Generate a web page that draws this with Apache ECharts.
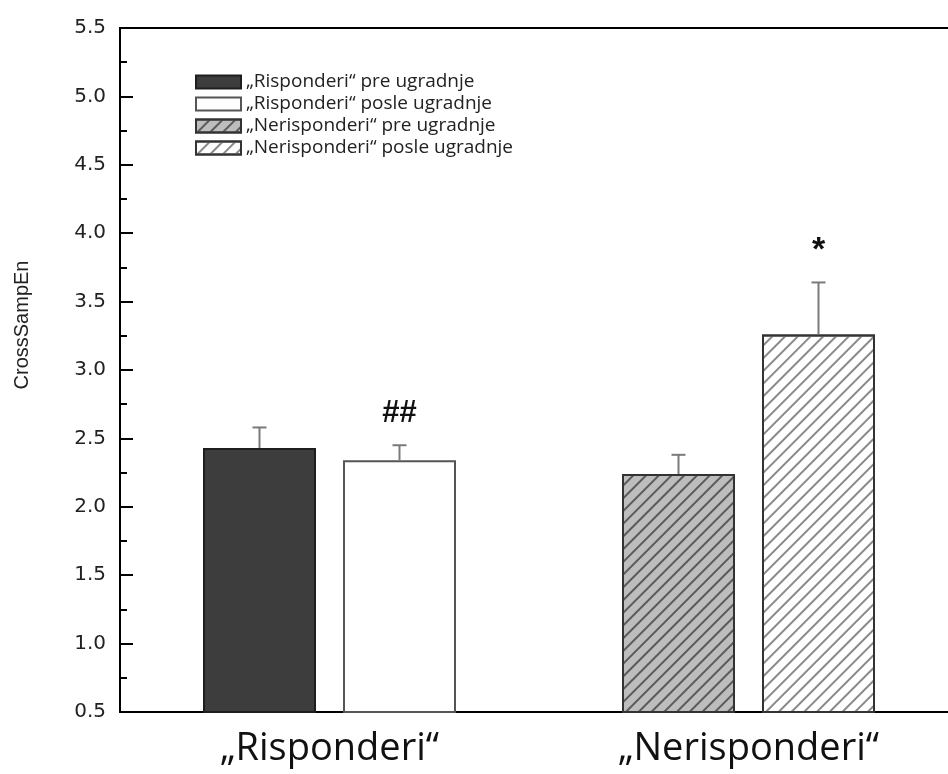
<!DOCTYPE html>
<html>
<head>
<meta charset="utf-8">
<script src="https://cdn.jsdelivr.net/npm/echarts@6/dist/echarts.min.js"></script>
<style>
  html, body { margin: 0; padding: 0; background: #fff; }
  #main { width: 948px; height: 774px; }
</style>
</head>
<body>
<div id="main"></div>
<script>
// data
const categories = ["„Risponderi“", "„Nerisponderi“"];
const seriesNames = [
  "„Risponderi“ pre ugradnje",
  "„Risponderi“ posle ugradnje",
  "„Nerisponderi“ pre ugradnje",
  "„Nerisponderi“ posle ugradnje",
];
const groupOf = [0, 0, 1, 1];
const means = [2.43, 2.34, 2.24, 3.26];
const sds = [0.15, 0.11, 0.14, 0.38];
const marks = ["", "##", "", "*"];
const yTicks = [0.5, 5.5, 0.5]; // min, max, step

const BAR_W = 113;
const BAR_GAP = 27; // px between the two bars of a group

const styles = [
  { color: "#3d3d3d", borderColor: "#1e1e1e", borderWidth: 2 },
  { color: "#ffffff", borderColor: "#555555", borderWidth: 2 },
  {
    color: "#bdbdbd", borderColor: "#333333", borderWidth: 2,
    decal: { symbol: "rect", symbolSize: 1, dashArrayX: [1, 0], dashArrayY: [1.2, 6.6], rotation: -Math.PI / 4, color: "#5a5a5a" },
  },
  {
    color: "#ffffff", borderColor: "#333333", borderWidth: 2,
    decal: { symbol: "rect", symbolSize: 1, dashArrayX: [1, 0], dashArrayY: [1.2, 6.6], rotation: -Math.PI / 4, color: "#8a8a8a" },
  },
];

const barSeries = seriesNames.map(function (name, i) {
  return {
    name: name,
    type: "bar",
    stack: i % 2 === 0 ? "left" : "right",
    barWidth: BAR_W,
    barGap: (BAR_GAP / BAR_W) * 100 + "%",
    clip: true,
    itemStyle: styles[i],
    data: categories.map(function (c, k) {
      return k === groupOf[i] ? means[i] : "-";
    }),
  };
});

// error bars + significance marks
const errData = means.map(function (m, i) {
  return [groupOf[i], m, sds[i], i % 2];
});

const errSeries = {
  type: "custom",
  z: 3,
  encode: { x: 0, y: 1 },
  data: errData,
  renderItem: function (params, api) {
    const cat = api.value(0);
    const mean = api.value(1);
    const sd = api.value(2);
    const slot = api.value(3);
    const off = ((slot === 0 ? -1 : 1) * (BAR_W + BAR_GAP)) / 2;
    const base = api.coord([cat, mean]);
    const top = api.coord([cat, mean + sd]);
    const x = base[0] + off;
    const lineStyle = { stroke: "#7a7a7a", lineWidth: 2 };
    const mark = marks[params.dataIndex];
    return {
      type: "group",
      children: [
        { type: "line", shape: { x1: x, y1: base[1], x2: x, y2: top[1] }, style: lineStyle },
        { type: "line", shape: { x1: x - 7, y1: top[1], x2: x + 7, y2: top[1] }, style: lineStyle },
        {
          type: "text",
          x: x,
          y: top[1] - 32,
          style: {
            text: mark,
            fontFamily: "Liberation Sans",
            fontWeight: "bold",
            fontSize: mark === "*" ? 34 : 31,
            fill: "#111",
            align: "center",
            verticalAlign: "middle",
          },
        },
      ],
    };
  },
};

const myChart = echarts.init(document.getElementById("main"));
myChart.setOption({
  animation: false,
  backgroundColor: "#fff",
  grid: {
    left: 120,
    right: -10,
    top: 28,
    bottom: 62,
    outerBoundsMode: "none",
    containLabel: false,
    show: true,
    borderColor: "#000",
    borderWidth: 2,
  },
  legend: {
    data: seriesNames,
    orient: "vertical",
    left: 195,
    top: 71,
    padding: 0,
    icon: "rect",
    itemWidth: 45,
    itemHeight: 13,
    itemGap: 0,
    selectedMode: false,
    textStyle: {
      fontFamily: "Open Sans",
      fontSize: 19,
      lineHeight: 22,
      color: "#222",
    },
  },
  xAxis: {
    type: "category",
    data: categories,
    axisTick: { show: false },
    axisLine: { lineStyle: { color: "#000", width: 2 } },
    axisLabel: {
      margin: 18,
      fontFamily: "Open Sans",
      fontSize: 38,
      color: "#111",
    },
  },
  yAxis: {
    type: "value",
    min: yTicks[0],
    max: yTicks[1],
    interval: yTicks[2],
    name: "CrossSampEn",
    nameLocation: "middle",
    nameGap: 88,
    nameTextStyle: {
      fontFamily: "Liberation Sans",
      fontSize: 20,
      color: "#222",
      padding: [0, 0, 0, 90],
    },
    axisLine: { show: true, lineStyle: { color: "#000", width: 2 } },
    axisTick: { show: true, inside: true, length: 13, lineStyle: { color: "#000", width: 2 } },
    minorTick: { show: true, splitNumber: 2, length: 7, lineStyle: { color: "#000", width: 2 } },
    splitLine: { show: false },
    axisLabel: {
      margin: 14,
      fontFamily: "DejaVu Sans",
      fontSize: 20,
      color: "#222",
      formatter: function (v) {
        return v.toFixed(1);
      },
    },
  },
  series: barSeries.concat([errSeries]),
});

window.addEventListener("resize", function () {
  myChart.resize();
});
</script>
</body>
</html>
